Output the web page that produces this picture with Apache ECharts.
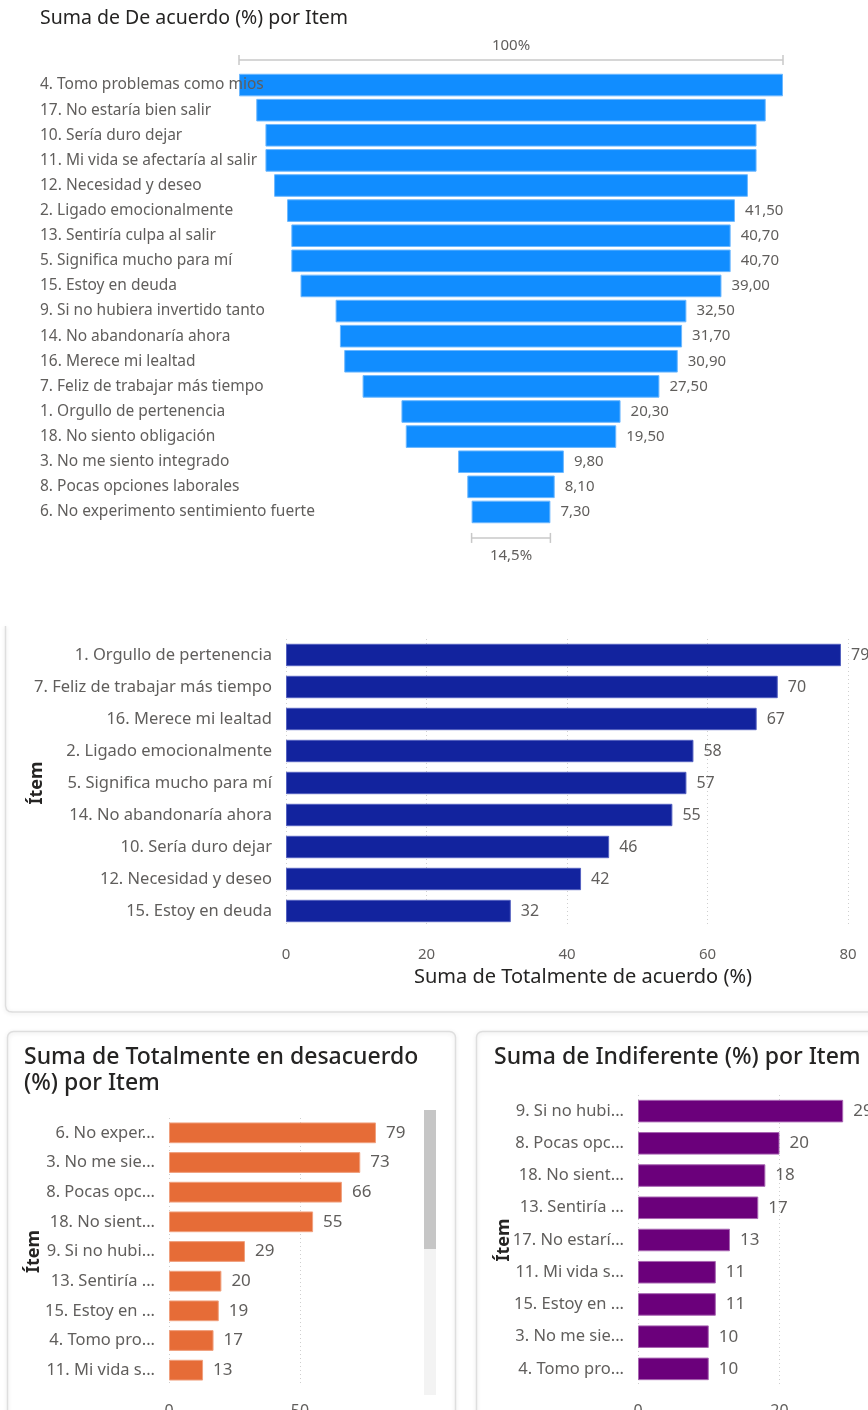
<!DOCTYPE html>
<html>
<head>
<meta charset="utf-8">
<script src="https://cdn.jsdelivr.net/npm/echarts@6/dist/echarts.min.js"></script>
<style>
  html, body { margin: 0; padding: 0; background: #ffffff; }
  #main { width: 868px; height: 1410px; }
</style>
</head>
<body>
<div id="main"></div>
<script>
// Suma de De acuerdo (%) por Item — funnel order
const funnelItems = [
  '4. Tomo problemas como mios',
  '17. No estaría bien salir',
  '10. Sería duro dejar',
  '11. Mi vida se afectaría al salir',
  '12. Necesidad y deseo',
  '2. Ligado emocionalmente',
  '13. Sentiría culpa al salir',
  '5. Significa mucho para mí',
  '15. Estoy en deuda',
  '9. Si no hubiera invertido tanto',
  '14. No abandonaría ahora',
  '16. Merece mi lealtad',
  '7. Feliz de trabajar más tiempo',
  '1. Orgullo de pertenencia',
  '18. No siento obligación',
  '3. No me siento integrado',
  '8. Pocas opciones laborales',
  '6. No experimento sentimiento fuerte'
];
const funnelValues = [50.4, 47.2, 45.5, 45.5, 43.9, 41.5, 40.7, 40.7, 39.0, 32.5, 31.7, 30.9, 27.5, 20.3, 19.5, 9.8, 8.1, 7.3];

// Suma de Totalmente de acuerdo (%)
const totalAcuerdoItems = [
  '1. Orgullo de pertenencia',
  '7. Feliz de trabajar más tiempo',
  '16. Merece mi lealtad',
  '2. Ligado emocionalmente',
  '5. Significa mucho para mí',
  '14. No abandonaría ahora',
  '10. Sería duro dejar',
  '12. Necesidad y deseo',
  '15. Estoy en deuda'
];
const totalAcuerdoValues = [79, 70, 67, 58, 57, 55, 46, 42, 32];

// Suma de Totalmente en desacuerdo (%)
const desacuerdoItems = [
  '6. No experimento sentimiento fuerte',
  '3. No me siento integrado',
  '8. Pocas opciones laborales',
  '18. No siento obligación',
  '9. Si no hubiera invertido tanto',
  '13. Sentiría culpa al salir',
  '15. Estoy en deuda',
  '4. Tomo problemas como mios',
  '11. Mi vida se afectaría al salir'
];
const desacuerdoValues = [79, 73, 66, 55, 29, 20, 19, 17, 13];

// Suma de Indiferente (%)
const indiferenteItems = [
  '9. Si no hubiera invertido tanto',
  '8. Pocas opciones laborales',
  '18. No siento obligación',
  '13. Sentiría culpa al salir',
  '17. No estaría bien salir',
  '11. Mi vida se afectaría al salir',
  '15. Estoy en deuda',
  '3. No me siento integrado',
  '4. Tomo problemas como mios'
];
const indiferenteValues = [29, 20, 18, 17, 13, 11, 11, 10, 10];

const FONT = '"Noto Sans", "Open Sans", sans-serif';
const TXT = '#605E5C';
const DARK = '#252423';
const fMax = Math.max(...funnelValues);
const fmtComma = (v, d) => v.toFixed(d).replace('.', ',');

const chart = echarts.init(document.getElementById('main'), null, { renderer: 'canvas' });

function barAxisY(items, gap, labelSize, nameSize, truncW) {
  return {
    type: 'category', data: items, inverse: true,
    axisLine: { show: false }, axisTick: { show: false },
    axisLabel: Object.assign({
      color: TXT, fontFamily: FONT, fontSize: labelSize, margin: 14
    }, truncW ? { width: truncW, overflow: 'truncate', ellipsis: '...' } : {}),
    name: 'Ítem', nameLocation: 'middle', nameRotate: 90, nameGap: gap, nameMoveOverlap: false,
    nameTextStyle: { color: DARK, fontFamily: FONT, fontSize: nameSize, fontWeight: 'bold' }
  };
}
function barAxisX(max, interval, labelSize, margin, extra) {
  return Object.assign({
    type: 'value', min: 0, max: max, interval: interval,
    axisLine: { show: false }, axisTick: { show: false },
    splitLine: { show: true, lineStyle: { color: '#cfcfcf', type: [1, 3], width: 1 } },
    axisLabel: { color: TXT, fontFamily: FONT, fontSize: labelSize, margin: margin, showMaxLabel: false }
  }, extra || {});
}
function barSeries(values, color, border, xi, yi, labelSize) {
  return {
    type: 'bar', xAxisIndex: xi, yAxisIndex: yi, data: values,
    barCategoryGap: '30%',
    itemStyle: { color: color, borderColor: border, borderWidth: 1 },
    label: { show: true, position: 'right', distance: 10, color: TXT, fontFamily: FONT, fontSize: labelSize }
  };
}

const option = {
  animation: false,
  backgroundColor: '#ffffff',
  grid: [
    { left: 239, top: 72.5, width: 544, height: 452, outerBoundsMode: 'none' },
    { left: 286, top: 639, width: 562, height: 288, outerBoundsMode: 'none' },
    { left: 169, top: 1118, width: 262, height: 267, outerBoundsMode: 'none' },
    { left: 638, top: 1095, width: 283, height: 290, outerBoundsMode: 'none' }
  ],
  xAxis: [
    { gridIndex: 0, type: 'value', min: 0, max: fMax, show: false },
    barAxisX(80, 20, 15, 20, {
      gridIndex: 1,
      axisLabel: { color: TXT, fontFamily: FONT, fontSize: 15, margin: 20 },
      name: 'Suma de Totalmente de acuerdo (%)', nameLocation: 'middle', nameGap: 40,
      nameTextStyle: { color: DARK, fontFamily: FONT, fontSize: 20, padding: [0, 0, 0, 32] }
    }),
    barAxisX(100, 50, 16, 18, { gridIndex: 2 }),
    barAxisX(40, 20, 16, 18, { gridIndex: 3 })
  ],
  yAxis: [
    {
      gridIndex: 0, type: 'category', data: funnelItems, inverse: true, z: 5,
      axisLine: { show: false }, axisTick: { show: false },
      axisLabel: { align: 'left', margin: 199, color: TXT, fontFamily: FONT, fontSize: 15.5 }
    },
    Object.assign(barAxisY(totalAcuerdoItems, 240, 16.5, 18), { gridIndex: 1 }),
    Object.assign(barAxisY(desacuerdoItems, 126, 16.5, 18, 114), { gridIndex: 2 }),
    Object.assign(barAxisY(indiferenteItems, 125, 16.5, 18, 114), { gridIndex: 3 })
  ],
  series: [
    {
      // transparent spacer that centres each funnel bar
      type: 'bar', xAxisIndex: 0, yAxisIndex: 0, stack: 'funnel', silent: true,
      data: funnelValues.map(v => (fMax - v) / 2),
      itemStyle: { color: 'transparent' }, barCategoryGap: '10%'
    },
    {
      type: 'bar', xAxisIndex: 0, yAxisIndex: 0, stack: 'funnel',
      data: funnelValues.map(v => ({
        value: v,
        label: { show: v / fMax < 0.85 }
      })),
      barCategoryGap: '10%',
      itemStyle: { color: '#118DFF', borderColor: '#6DB8FF', borderWidth: 1 },
      label: {
        position: 'right', distance: 10, color: TXT, fontFamily: FONT, fontSize: 15,
        formatter: p => fmtComma(p.value, 2)
      }
    },
    barSeries(totalAcuerdoValues, '#12239E', '#5461c0', 1, 1, 16),
    barSeries(desacuerdoValues, '#E66C37', '#f0a07e', 2, 2, 17),
    barSeries(indiferenteValues, '#6B007B', '#a866b2', 3, 3, 17)
  ]
};
chart.setOption(option);

// frames, titles, funnel brackets and scrollbar
const x0 = chart.convertToPixel({ xAxisIndex: 0 }, 0);
const x1 = chart.convertToPixel({ xAxisIndex: 0 }, fMax);
const last = funnelValues[funnelValues.length - 1];
const bx0 = chart.convertToPixel({ xAxisIndex: 0 }, (fMax - last) / 2);
const bx1 = chart.convertToPixel({ xAxisIndex: 0 }, (fMax + last) / 2);
const yTop = chart.convertToPixel({ yAxisIndex: 0 }, funnelItems[0]);
const yBot = chart.convertToPixel({ yAxisIndex: 0 }, funnelItems[funnelItems.length - 1]);

function bracket(xa, xb, y, text, ty) {
  const ls = { stroke: '#c8c8c8', lineWidth: 1.5 };
  return [
    { type: 'line', shape: { x1: xa, y1: y, x2: xb, y2: y }, style: ls, silent: true },
    { type: 'line', shape: { x1: xa, y1: y - 5, x2: xa, y2: y + 5 }, style: ls, silent: true },
    { type: 'line', shape: { x1: xb, y1: y - 5, x2: xb, y2: y + 5 }, style: ls, silent: true },
    { type: 'text', x: (xa + xb) / 2, y: ty, silent: true,
      style: { text: text, fill: TXT, font: '15px ' + FONT, align: 'center', verticalAlign: 'middle' } }
  ];
}
function title(text, x, y, size, weight) {
  return { type: 'text', x: x, y: y, silent: true,
    style: { text: text, fill: DARK, font: (weight || 'normal') + ' ' + size + 'px ' + FONT, align: 'left', verticalAlign: 'middle' } };
}
const frame = { stroke: '#dedede', lineWidth: 1.5, fill: null, shadowBlur: 4, shadowColor: 'rgba(0,0,0,0.12)', shadowOffsetY: 1 };

chart.setOption({
  graphic: [
    title('Suma de De acuerdo (%) por Item', 40, 18, 19.5),
    ...bracket(x0, x1, yTop - 25, '100%', yTop - 39),
    ...bracket(bx0, bx1, yBot + 26, fmtComma(last / fMax * 100, 1) + '%', yBot + 44),
    { type: 'polyline', silent: true, z: -1,
      shape: { points: [[5.5, 626], [5.5, 1006], [6.5, 1009.5], [9, 1011.5], [12.5, 1012], [900, 1012]] },
      style: { stroke: '#dedede', lineWidth: 1.5, fill: null, shadowBlur: 4, shadowColor: 'rgba(0,0,0,0.12)', shadowOffsetY: 1 } },
    { type: 'rect', silent: true, z: -1, shape: { x: 7.5, y: 1031.5, width: 448, height: 430, r: 6 }, style: frame },
    { type: 'rect', silent: true, z: -1, shape: { x: 476.5, y: 1031.5, width: 430, height: 430, r: 6 }, style: frame },
    title('Suma de Totalmente en desacuerdo', 24, 1057, 23, 500),
    title('(%) por Item', 24, 1083, 23, 500),
    title('Suma de Indiferente (%) por Item', 494, 1057, 23, 500),
    { type: 'rect', silent: true, z: 10, shape: { x: 424, y: 1110, width: 12, height: 285 }, style: { fill: '#f3f3f3' } },
    { type: 'rect', silent: true, z: 11, shape: { x: 424, y: 1110, width: 12, height: 139 }, style: { fill: '#c6c6c6' } }
  ]
});
</script>
</body>
</html>
